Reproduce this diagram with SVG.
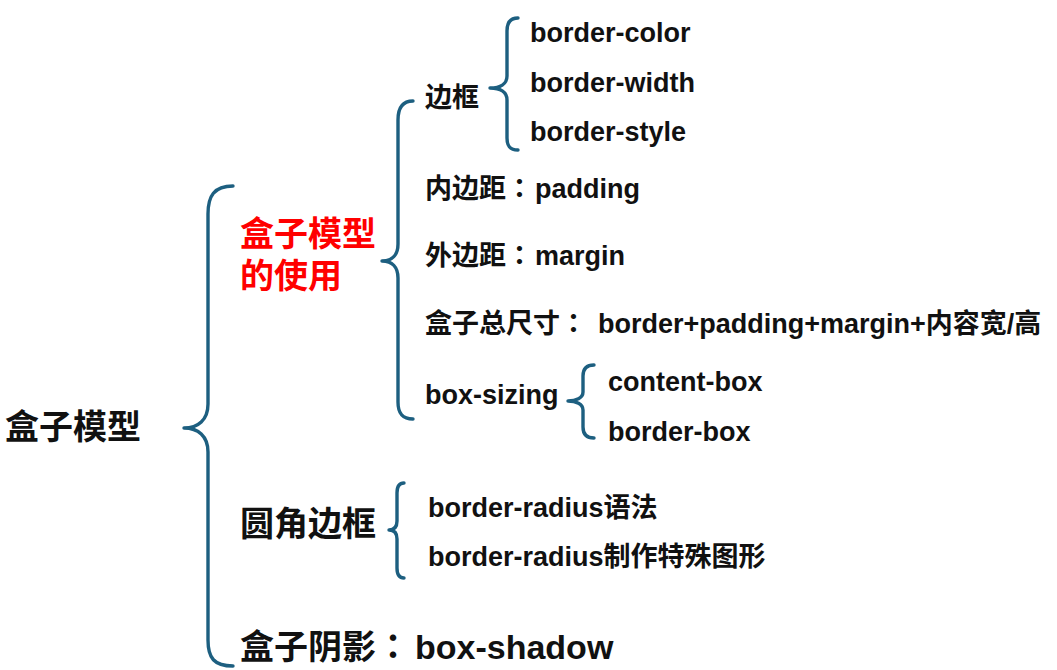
<svg xmlns="http://www.w3.org/2000/svg" width="1057" height="670" viewBox="0 0 1057 670">
<style>
.t{font-family:"Liberation Sans","Noto Sans CJK SC",sans-serif;font-weight:bold;fill:#111}
.s{font-size:27px}
.b{font-size:34px}
.red{fill:#ff0000}
.c{font-family:"Noto Sans CJK TC",sans-serif}
.br{fill:none;stroke:#1d5f80;stroke-width:3.4;stroke-linecap:round;stroke-linejoin:round}
</style>
<rect width="1057" height="670" fill="#ffffff"/>
<g id="connectors">
<path class="br" d="M233,186 C214,186 208,196 208,214 L208,404 C208,420 198,428 184,428 C198,428 208,436 208,452 L208,640 C208,658 214,666 233,666"/>
<path class="br" d="M413,101 C402,101 398,108 398,120 L398,244 C398,255 392,261 382,261 C392,261 398,267 398,278 L398,402 C398,413 402,419 413,419"/>
<path class="br" d="M518,18 C510,18 507,23 507,31 L507,76 C507,84 500,88 490,88 C500,88 507,92 507,100 L507,138 C507,146 510,150 518,150"/>
<path class="br" d="M594,365 C586,365 583,369 583,376 L583,392 C583,398 576,401 568,401 C576,401 583,404 583,410 L583,427 C583,434 586,438 594,438"/>
<path class="br" d="M404,483 C399,483 397,487 397,493 L397,521 C397,527 394,530 389,530 C394,530 397,533 397,539 L397,568 C397,574 399,578 404,578"/>
</g>
<g id="root"><text class="t b" x="5" y="439">盒子模型</text></g>
<g id="use"><text class="t b red" x="240" y="246">盒子模型</text><text class="t b red" x="240" y="288">的使用</text></g>
<g id="border"><text class="t s" x="425" y="107">边框</text></g>
<g id="border-color"><text class="t s" x="530" y="42">border-color</text></g>
<g id="border-width"><text class="t s" x="530" y="92">border-width</text></g>
<g id="border-style"><text class="t s" x="530" y="141">border-style</text></g>
<g id="padding"><text class="t s" x="425" y="198">内边距<tspan class="c">：</tspan><tspan x="535">padding</tspan></text></g>
<g id="margin"><text class="t s" x="425" y="265">外边距<tspan class="c">：</tspan><tspan x="535">margin</tspan></text></g>
<g id="total"><text class="t s" x="425" y="333">盒子总尺寸<tspan class="c">：</tspan><tspan x="598">border+padding+margin+内容宽/高</tspan></text></g>
<g id="box-sizing"><text class="t s" x="425" y="404">box-sizing</text></g>
<g id="content-box"><text class="t s" x="608" y="391">content-box</text></g>
<g id="border-box"><text class="t s" x="608" y="441">border-box</text></g>
<g id="radius"><text class="t b" x="240" y="536">圆角边框</text></g>
<g id="radius-syntax"><text class="t s" x="428" y="517">border-radius语法</text></g>
<g id="radius-shapes"><text class="t s" x="428" y="566">border-radius制作特殊图形</text></g>
<g id="shadow"><text class="t b" x="240" y="659">盒子阴影<tspan class="c">：</tspan><tspan x="415">box-shadow</tspan></text></g>
</svg>
